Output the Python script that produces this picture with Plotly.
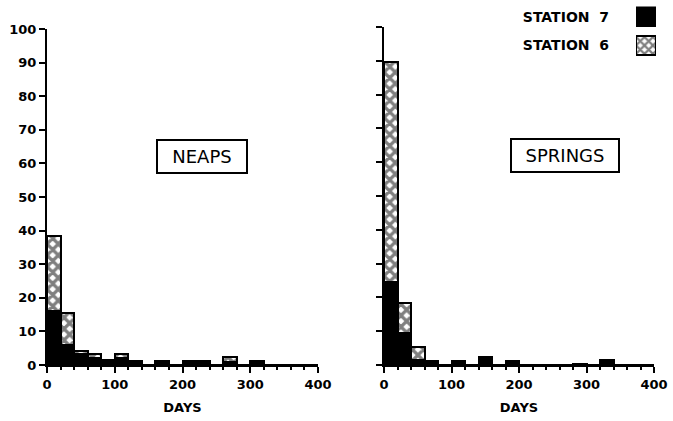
import plotly.graph_objects as go

# ---- data ----
days = [10, 30, 50, 70, 90, 110, 130, 150, 170, 190, 210, 230, 250, 270, 290, 310, 330, 350, 370, 390]
# full bar heights (station 6, hatched) and station 7 (black, in front)
neaps_st6 = [38.5, 15.5, 4.3, 3.2, 1.4, 3.3, 1.3, 0, 1.3, 0, 1.3, 1.3, 0, 2.5, 0, 1.3, 0, 0, 0, 0]
neaps_st7 = [16, 6, 3.3, 2.2, 1.4, 2.0, 1.3, 0, 0.8, 0, 0.8, 0.8, 0, 1.0, 0, 1.3, 0, 0, 0, 0]
springs_st6 = [89.5, 18.3, 5.2, 1.3, 0, 1.1, 0, 2.5, 0, 1.1, 0, 0, 0, 0, 0.3, 0, 1.5, 0, 0, 0]
springs_st7 = [24.5, 9.6, 1.4, 1.3, 0, 1.1, 0, 2.5, 0, 1.1, 0, 0, 0, 0, 0.3, 0, 1.5, 0, 0, 0]
y_ticks = [0, 10, 20, 30, 40, 50, 60, 70, 80, 90, 100]
x_ticks = [0, 100, 200, 300, 400]
panel_labels = ["NEAPS", "SPRINGS"]
legend_names = ["STATION\u00a0\u00a07", "STATION\u00a0\u00a06"]
legend_keys = [1, 1]

FONT = "DejaVu Sans"
hatch = dict(shape="x", fgcolor="black", bgcolor="white", size=8, solidity=0.65)

fig = go.Figure()

def add_panel(st6, st7, xa, ya):
    fig.add_trace(go.Bar(x=days, y=st6, width=20, xaxis=xa, yaxis=ya,
                         marker=dict(color="white", pattern=hatch,
                                     line=dict(color="black", width=2)),
                         showlegend=False))
    fig.add_trace(go.Bar(x=days, y=st7, width=20, xaxis=xa, yaxis=ya,
                         marker=dict(color="black", line=dict(color="black", width=2)),
                         showlegend=False))

add_panel(neaps_st6, neaps_st7, "x", "y")
add_panel(springs_st6, springs_st7, "x2", "y2")

# legend keys as small bars on a separate axis
fig.add_trace(go.Bar(y=[legend_names[0]], x=[legend_keys[0]], orientation="h",
                     xaxis="x3", yaxis="y3", width=0.68,
                     marker=dict(color="black", line=dict(color="black", width=1.5)),
                     showlegend=False))
fig.add_trace(go.Bar(y=[legend_names[1]], x=[legend_keys[1]], orientation="h",
                     xaxis="x3", yaxis="y3", width=0.68,
                     marker=dict(color="white", pattern=dict(shape="x", fgcolor="black", bgcolor="white", size=6, solidity=0.6),
                                 line=dict(color="black", width=2)),
                     showlegend=False))

W, H = 673, 421
def clamp(v):
    return min(1.0, max(0.0, v))
def px_x(a, b):
    return [clamp(a / W), clamp(b / W)]
def px_y(top, bottom):
    return [clamp((H - bottom) / H), clamp((H - top) / H)]

TF = dict(family=FONT, size=13, color="black", weight="bold")
LF = dict(family=FONT, size=14, color="black", weight="bold")
xcommon = dict(range=[0, 400], tickvals=x_ticks, showline=True, linecolor="black", linewidth=2,
               ticks="outside", ticklen=6, tickwidth=2, tickcolor="black",
               minor=dict(dtick=20, ticks="outside", ticklen=3, tickwidth=1.5, tickcolor="black"),
               showgrid=False, zeroline=False, automargin=False,
               tickfont=TF,
               title=dict(text="DAYS", font=TF, standoff=12))
ycommon = dict(range=[0, 100], tickvals=y_ticks, showline=True, linecolor="black", linewidth=2,
               ticks="outside", ticklen=6, tickwidth=2, tickcolor="black",
               showgrid=False, zeroline=False, automargin=False,
               tickfont=TF)

fig.update_layout(
    width=W, height=H, margin=dict(l=0, r=0, t=0, b=0, autoexpand=False),
    paper_bgcolor="white", plot_bgcolor="white",
    barmode="overlay", bargap=0,
    xaxis=dict(domain=px_x(47, 318), anchor="y", **xcommon),
    yaxis=dict(domain=px_y(29, 365), anchor="x", showticklabels=True, **ycommon),
    xaxis2=dict(domain=px_x(384, 654), anchor="y2", **xcommon),
    yaxis2=dict(domain=px_y(27, 365), anchor="x2", showticklabels=False, **ycommon),
    xaxis3=dict(domain=px_x(636, 656), anchor="y3", range=[0, 1], visible=False, automargin=False),
    yaxis3=dict(domain=px_y(3, 59), anchor="x3", range=[1.48, -0.52], showline=False,
                ticks="", showgrid=False, zeroline=False, ticklabelstandoff=26, automargin=False,
                tickfont=LF),
    annotations=[
        dict(x=229, y=62, xref="x", yref="y", text=panel_labels[0], showarrow=False,
             font=dict(family=FONT, size=18, color="black"), width=80, height=23,
             bordercolor="black", borderwidth=2, borderpad=4, bgcolor="white"),
        dict(x=268, y=62, xref="x2", yref="y2", text=panel_labels[1], showarrow=False,
             font=dict(family=FONT, size=18, color="black"), width=98, height=23,
             bordercolor="black", borderwidth=2, borderpad=4, bgcolor="white"),
    ],
)

fig.write_html("out.html", config={"displayModeBar": False},
               post_script="document.body.style.margin='0';document.body.style.overflow='hidden';")
